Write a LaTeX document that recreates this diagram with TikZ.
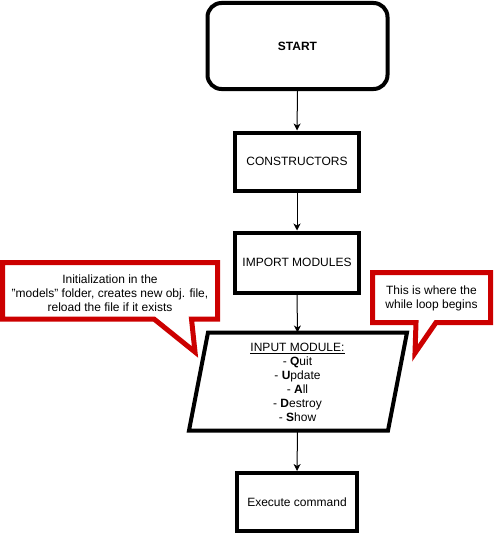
\documentclass[tikz,border=0pt]{standalone}
\usepackage{fontspec}
\setmainfont{Liberation Sans}
\usetikzlibrary{arrows.meta}
\definecolor{calloutred}{HTML}{CC0000}
\begin{document}
\begin{tikzpicture}[x=1pt,y=-1pt,
  font=\fontsize{12}{14}\selectfont,
  box/.style={draw=black,line width=4pt,fill=white,minimum width=122pt,minimum height=58pt,inner sep=0pt,align=center},
  flow/.style={draw=black,line width=1pt,-{Stealth[length=7pt,width=7pt,inset=2pt]}},
  callout/.style={draw=calloutred,line width=5pt,fill=white,line join=miter},
  note/.style={align=center,inner sep=0pt}]
\useasboundingbox (0,0) rectangle (495,535);

% process boxes
\node[box,rounded corners=14pt,minimum width=180pt,minimum height=86pt,font=\fontsize{12}{14}\selectfont\bfseries] (start) at (297.5,46) {START};
\node[box,minimum width=124pt] (ctor) at (297,161.5) {CONSTRUCTORS};
\node[box,minimum width=124pt,minimum height=60pt] (imp) at (297,262.5) {IMPORT MODULES};
\node[box,minimum width=120pt,minimum height=58pt] (exec) at (297,502) {Execute command};

% input parallelogram
\draw[line width=4pt,fill=white,line join=miter] (208,332.5) -- (407,332.5) -- (388,430.5) -- (189,430.5) -- cycle;
\coordinate (inTop) at (297.5,332.5);
\coordinate (inBot) at (297.5,430.5);
\node[note] (input) at (297.5,382.5) {\underline{INPUT MODULE:}\\- \textbf{Q}uit\\- \textbf{U}pdate\\- \textbf{A}ll\\- \textbf{D}estroy\\- \textbf{S}how};

% connectors
\draw[flow] (start.south) -- (ctor.north);
\draw[flow] (ctor.south) -- (imp.north);
\draw[flow] (imp.south) -- (inTop);
\draw[flow] (inBot) -- (exec.north);

% callouts
\draw[callout] (2.5,262.5) -- (217.5,262.5) -- (217.5,319) -- (191.5,319) -- (195,352) -- (154,319) -- (2.5,319) -- cycle;
\node[note] (initnote) at (110,293) {Initialization in the\\"models" folder, creates new obj. file,\\reload the file if it exists};

\draw[callout] (372.5,272.5) -- (490.5,272.5) -- (490.5,322.5) -- (436,322.5) -- (415,353) -- (416,322.5) -- (372.5,322.5) -- cycle;
\node[note] (loopnote) at (431.5,298.5) {This is where the\\while loop begins};
\end{tikzpicture}
\end{document}
